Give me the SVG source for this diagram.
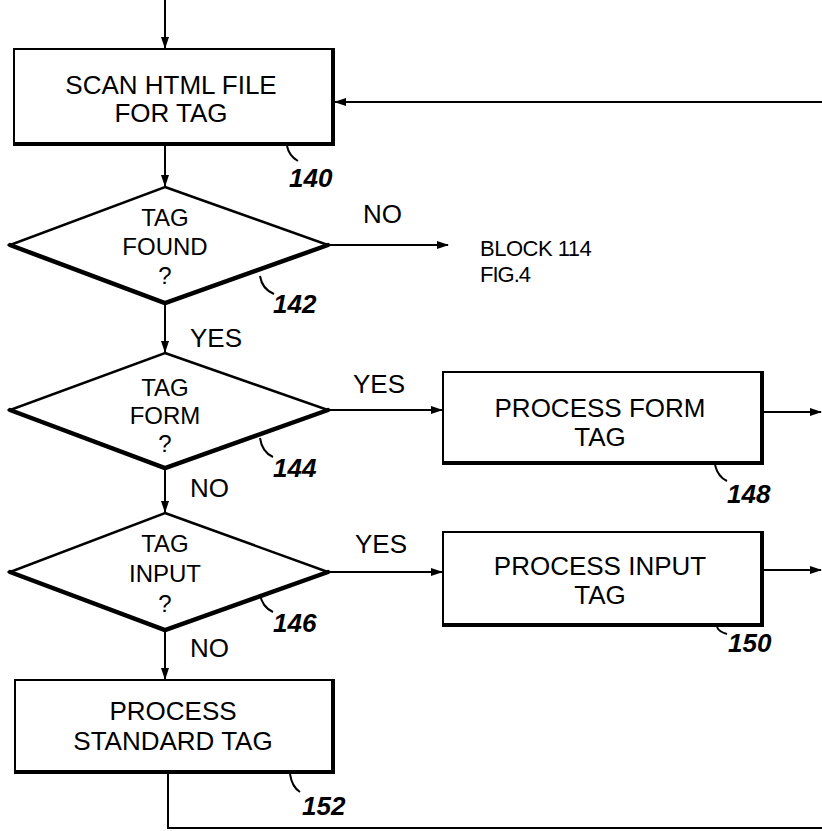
<svg xmlns="http://www.w3.org/2000/svg" width="822" height="831" viewBox="0 0 822 831">
<style>
.bg{fill:#fff}
.box{fill:#fff;stroke:#000;stroke-width:2}
.sh{fill:none;stroke:#000;stroke-width:4;stroke-linecap:square}
.dia{fill:#fff;stroke:#000;stroke-width:2.5;stroke-linejoin:miter}
.dsh{fill:none;stroke:#000;stroke-width:4.5;stroke-linecap:round}
.t{font-family:"Liberation Sans",Arial,sans-serif;font-size:26px;fill:#000;text-anchor:middle}
.d{font-family:"Liberation Sans",Arial,sans-serif;font-size:24px;fill:#000;text-anchor:middle}
.l{font-family:"Liberation Sans",Arial,sans-serif;font-size:26px;fill:#000}
.s{font-family:"Liberation Sans",Arial,sans-serif;font-size:22px;fill:#000}
.r{font-family:"Liberation Sans",Arial,sans-serif;font-size:26px;font-style:italic;font-weight:bold;fill:#000}
.c{fill:none;stroke:#000;stroke-width:2}
.ld{fill:none;stroke:#000;stroke-width:2}
</style>
<defs>
<marker id="ah" markerUnits="userSpaceOnUse" markerWidth="12" markerHeight="10" refX="11" refY="5" orient="auto">
<path d="M0,1 L12,5 L0,9 Z" fill="#000"/>
</marker>
</defs>
<rect class="bg" x="0" y="0" width="822" height="831"/>
<g id="connectors">
<path class="c" d="M165,0 V48" marker-end="url(#ah)"/>
<path class="c" d="M165,145 V186" marker-end="url(#ah)"/>
<path class="c" d="M329,245 H448" marker-end="url(#ah)"/>
<path class="c" d="M165,304 V352" marker-end="url(#ah)"/>
<path class="c" d="M329,410 H442" marker-end="url(#ah)"/>
<path class="c" d="M165,469 V512" marker-end="url(#ah)"/>
<path class="c" d="M329,572 H442" marker-end="url(#ah)"/>
<path class="c" d="M165,631 V679" marker-end="url(#ah)"/>
<path class="c" d="M763,412 H821" marker-end="url(#ah)"/>
<path class="c" d="M763,570 H821" marker-end="url(#ah)"/>
<path class="c" d="M168,773 V828 H822"/>
<path class="c" d="M822,102 H335" marker-end="url(#ah)"/>
</g>
<g id="labels">
<text class="l" x="363" y="223">NO</text>
<text class="s" x="480" y="256" style="letter-spacing:-0.5px">BLOCK 114</text>
<text class="s" x="480" y="282" style="letter-spacing:-1px">FIG.4</text>
<text class="l" x="190" y="347">YES</text>
<text class="l" x="353" y="393">YES</text>
<text class="l" x="190" y="497">NO</text>
<text class="l" x="355" y="553">YES</text>
<text class="l" x="190" y="657">NO</text>
</g>
<g id="n140">
<rect class="box" x="14" y="49" width="319" height="95"/>
<path class="sh" d="M333,50 V144 H15"/>
<text class="t" x="171" y="94">SCAN HTML FILE</text>
<text class="t" x="171" y="122">FOR TAG</text>
<path class="ld" d="M287,146 Q289,156 298,161"/>
<text class="r" x="289" y="187">140</text>
</g>
<g id="n142">
<polygon class="dia" points="165,187 328,245 165,303 10,245"/>
<path class="dsh" d="M328,245 L165,303 L10,245"/>
<text class="d" x="165" y="226">TAG</text>
<text class="d" x="165" y="255">FOUND</text>
<text class="d" x="165" y="284">?</text>
<path class="ld" d="M260,276 Q262,289 274,294"/>
<text class="r" x="273" y="313">142</text>
</g>
<g id="n144">
<polygon class="dia" points="165,353 328,410 165,468 10,410"/>
<path class="dsh" d="M328,410 L165,468 L10,410"/>
<text class="d" x="165" y="396">TAG</text>
<text class="d" x="165" y="424">FORM</text>
<text class="d" x="165" y="452">?</text>
<path class="ld" d="M260,438 Q262,452 273,457"/>
<text class="r" x="273" y="477">144</text>
</g>
<g id="n146">
<polygon class="dia" points="165,513 328,572 165,630 10,572"/>
<path class="dsh" d="M328,572 L165,630 L10,572"/>
<text class="d" x="165" y="552">TAG</text>
<text class="d" x="165" y="582">INPUT</text>
<text class="d" x="165" y="612">?</text>
<path class="ld" d="M260,594 Q262,607 273,612"/>
<text class="r" x="273" y="632">146</text>
</g>
<g id="n148">
<rect class="box" x="443" y="372" width="319" height="91"/>
<path class="sh" d="M762,373 V463 H444"/>
<text class="t" x="600" y="417">PROCESS FORM</text>
<text class="t" x="600" y="446">TAG</text>
<path class="ld" d="M715,465 Q718,477 727,481"/>
<text class="r" x="727" y="503">148</text>
</g>
<g id="n150">
<rect class="box" x="443" y="532" width="319" height="93"/>
<path class="sh" d="M762,533 V625 H444"/>
<text class="t" x="600" y="575">PROCESS INPUT</text>
<text class="t" x="600" y="604">TAG</text>
<path class="ld" d="M717,627 Q719,632 727,634"/>
<text class="r" x="728" y="652">150</text>
</g>
<g id="n152">
<rect class="box" x="15" y="680" width="318" height="92"/>
<path class="sh" d="M333,681 V772 H16"/>
<text class="t" x="173" y="720">PROCESS</text>
<text class="t" x="173" y="750">STANDARD TAG</text>
<path class="ld" d="M290,774 Q292,787 300,792"/>
<text class="r" x="302" y="815">152</text>
</g>
</svg>
